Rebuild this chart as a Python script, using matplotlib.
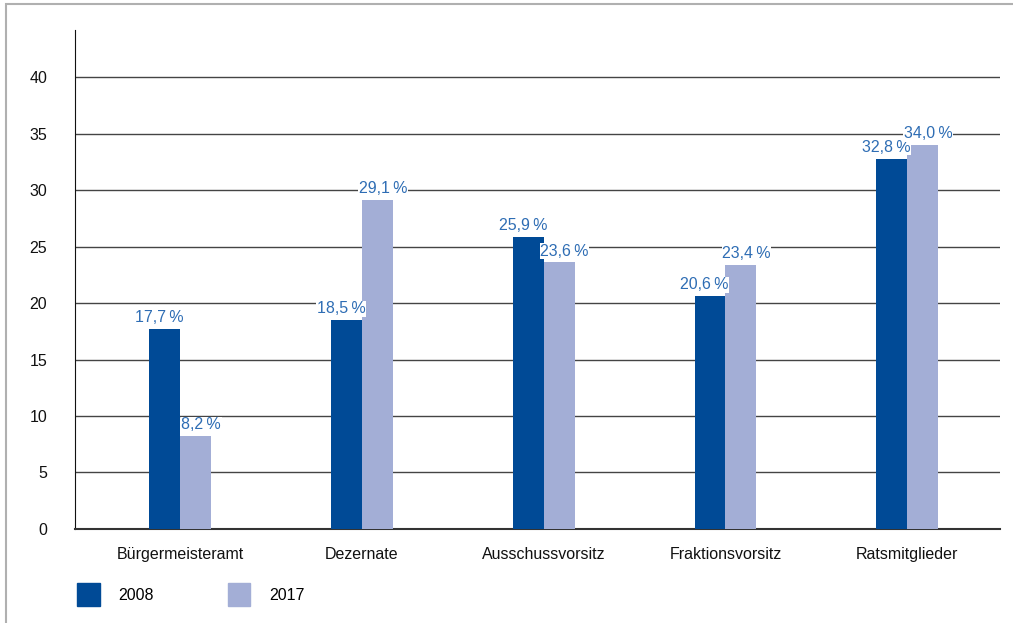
import matplotlib.pyplot as plt
from matplotlib.patches import Patch, Rectangle
import numpy as np

plt.rcParams['font.family'] = ['Liberation Sans', 'DejaVu Sans']

categories = ['Bürgermeisteramt', 'Dezernate', 'Ausschussvorsitz', 'Fraktionsvorsitz', 'Ratsmitglieder']
v2008 = [17.7, 18.5, 25.9, 20.6, 32.8]
v2017 = [8.2, 29.1, 23.6, 23.4, 34.0]
years = ['2008', '2017']
colors = ['#004a96', '#a3aed6']
label_color = '#2e6db4'

fig = plt.figure(figsize=(10.13, 6.23), dpi=100)
ax = fig.add_axes([0.074, 0.151, 0.913, 0.801])

x = np.arange(len(categories))
w = 0.17
b1 = ax.bar(x - w/2, v2008, w, color=colors[0], zorder=3)
b2 = ax.bar(x + w/2, v2017, w, color=colors[1], zorder=3)

for bars, vals, dx in ((b1, v2008, -0.03), (b2, v2017, 0.03)):
    for r, v in zip(bars, vals):
        ax.text(r.get_x() + r.get_width()/2 + dx, v + 0.35, ("%.1f\u2009%%" % v).replace('.', ','),
                ha='center', va='bottom', color=label_color, fontsize=11.5, zorder=4,
                bbox=dict(facecolor='white', edgecolor='none', pad=0.3))

ax.set_ylim(0, 44.2)
ax.set_xlim(-0.58, 4.51)
ax.set_yticks(range(0, 41, 5))
ax.set_xticks(x)
ax.set_xticklabels(categories)
ax.tick_params(length=0, labelsize=11.5, colors='#111111')
ax.tick_params(axis='x', pad=13)
ax.tick_params(axis='y', pad=20)

for y in range(5, 41, 5):
    ax.axhline(y, color='#444444', lw=1, zorder=1)

ax.spines['top'].set_visible(False)
ax.spines['right'].set_visible(False)
ax.spines['left'].set_color('#111111')
ax.spines['bottom'].set_color('#333333')
ax.spines['bottom'].set_linewidth(1.5)

handles = [Patch(color=c) for c in colors]
fig.legend(handles, years, loc='lower left', bbox_to_anchor=(0.062, 0.005), ncol=2,
           frameon=False, fontsize=11.5, handlelength=1.4, handleheight=1.75,
           columnspacing=4.6, handletextpad=1.2)

fig.add_artist(Rectangle((6/1013, -0.1), 1.2, 1 - 4/623 + 0.1, transform=fig.transFigure,
                         fill=False, edgecolor='#b0b0b0', lw=1.5))

fig.savefig('out.png', dpi=100)
